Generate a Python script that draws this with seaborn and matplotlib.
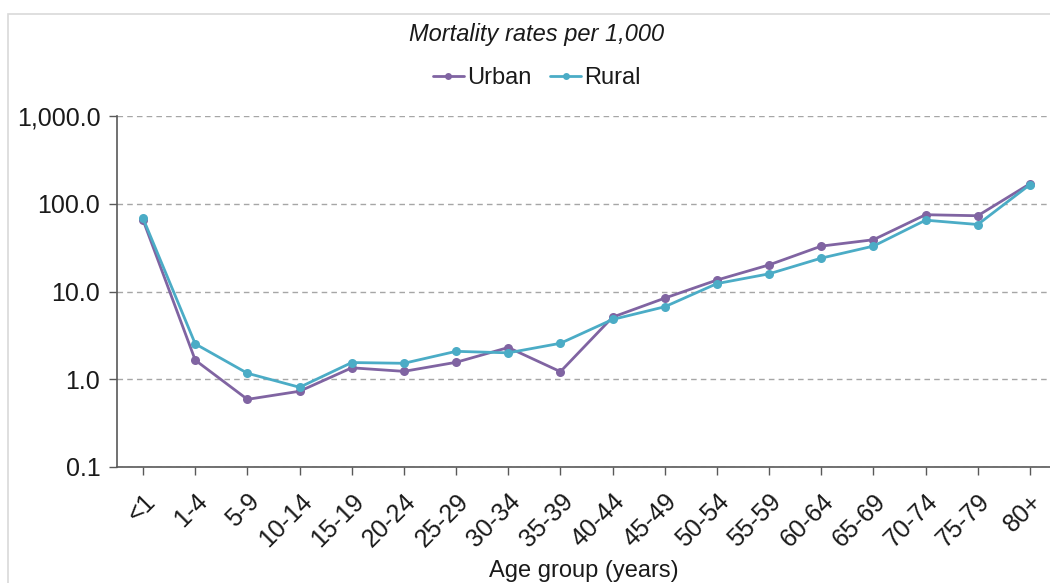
import matplotlib
matplotlib.use('Agg')
import matplotlib.pyplot as plt
import matplotlib.ticker as mticker
from matplotlib.patches import Rectangle
import pandas as pd
import seaborn as sns

age_groups = ['<1', '1-4', '5-9', '10-14', '15-19', '20-24', '25-29', '30-34', '35-39',
              '40-44', '45-49', '50-54', '55-59', '60-64', '65-69', '70-74', '75-79', '80+']
urban = [65, 1.65, 0.59, 0.73, 1.35, 1.23, 1.56, 2.3, 1.22,
         5.1, 8.4, 13.5, 20.1, 32.9, 38.9, 75, 73, 169]
rural = [68, 2.53, 1.17, 0.81, 1.55, 1.52, 2.08, 2.0, 2.57,
         4.8, 6.7, 12.3, 15.9, 24.0, 32.9, 65, 58, 165]

df = pd.DataFrame({
    'age': age_groups * 2,
    'rate': urban + rural,
    'area': ['Urban'] * len(urban) + ['Rural'] * len(rural),
})

sns.set_theme(style='white')
plt.rcParams['font.family'] = ['Liberation Sans', 'DejaVu Sans']

W, H = 1050, 583
fig = plt.figure(figsize=(W / 100, H / 100), dpi=100)
ax = fig.add_axes([117 / W, 1 - 467 / H, (1056 - 117) / W, (467 - 116) / H])

# light chart-area border (left/top visible)
fig.patches.append(Rectangle((8 / W, -0.1), 1.2, 1 - 14 / H + 0.1, transform=fig.transFigure,
                             fill=False, edgecolor='#d9d9d9', linewidth=1.2))

sns.lineplot(data=df, x='age', y='rate', hue='area', palette={'Urban': '#8064a2', 'Rural': '#4bacc6'},
             marker='o', markersize=6.5, markeredgewidth=0, linewidth=2, sort=False, ax=ax, legend=False)

ax.set_yscale('log')
ax.set_ylim(0.1, 1000)
ax.set_xlim(-0.5, len(age_groups) - 0.5)
ax.yaxis.set_major_locator(mticker.LogLocator(base=10, numticks=10))
ax.yaxis.set_minor_locator(mticker.NullLocator())
ax.yaxis.set_major_formatter(mticker.FuncFormatter(lambda v, p: f'{v:,.1f}'))
ax.grid(axis='y', color='#a6a6a6', linestyle=(0, (4, 3)), linewidth=1)
ax.set_axisbelow(True)

for s in ['top', 'right']:
    ax.spines[s].set_visible(False)
for s in ['left', 'bottom']:
    ax.spines[s].set_color('#595959')
    ax.spines[s].set_linewidth(1.2)

ax.tick_params(axis='both', direction='out', length=6, width=1, color='#595959',
               labelsize=18, labelcolor='#1a1a1a', left=True, bottom=True)
ax.tick_params(axis='y', pad=6)
ax.tick_params(axis='x', pad=10)
ax.set_xticks(range(len(age_groups)))
ax.set_xticklabels(age_groups, rotation=45, ha='right', rotation_mode='anchor')
ax.set_xlabel('Age group (years)', fontsize=17, color='#1a1a1a')
ax.xaxis.set_label_coords((584 - 117) / (1056 - 117), (467 - 560) / (467 - 116))
ax.set_ylabel('')

fig.text(537 / W, 1 - 35 / H, 'Mortality rates per 1,000', ha='center', va='center',
         fontsize=17, fontstyle='italic', color='#1a1a1a')

handles = [plt.Line2D([], [], color='#8064a2', marker='o', markersize=5, markeredgewidth=0, linewidth=2),
           plt.Line2D([], [], color='#4bacc6', marker='o', markersize=5, markeredgewidth=0, linewidth=2)]
fig.legend(handles, ['Urban', 'Rural'], loc='center', bbox_to_anchor=(537 / W, 1 - 78 / H),
           ncol=2, frameon=False, fontsize=17, handlelength=1.3, handletextpad=0.15,
           columnspacing=0.8, labelcolor='#1a1a1a')

fig.savefig('out.png', dpi=100)
